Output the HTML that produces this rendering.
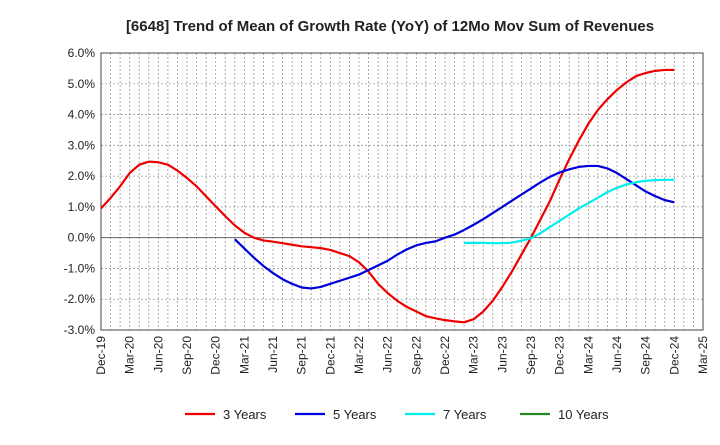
<!DOCTYPE html>
<html><head><meta charset="utf-8"><style>
body{margin:0;background:#fff;font-family:"Liberation Sans",sans-serif;}
svg text{font-family:"Liberation Sans",sans-serif;}
</style></head><body>
<svg width="720" height="440">
<g id="grid"></g>
<g id="axes"></g>
<g id="series"></g>
<text x="390" y="31" text-anchor="middle" font-size="15" font-weight="bold" fill="#222">[6648]  Trend of Mean of Growth Rate (YoY) of 12Mo Mov Sum of Revenues</text>
<g id="legend"></g>
</svg>
<script>
const xLabels=["Dec-19","Mar-20","Jun-20","Sep-20","Dec-20","Mar-21","Jun-21","Sep-21","Dec-21","Mar-22","Jun-22","Sep-22","Dec-22","Mar-23","Jun-23","Sep-23","Dec-23","Mar-24","Jun-24","Sep-24","Dec-24","Mar-25"];
const yTicks=[6,5,4,3,2,1,0,-1,-2,-3];
const seriesNames=["3 Years","5 Years","7 Years","10 Years"];
const seriesColors=["#ee0000","#0000dd","#00eeee","#228b22"];
const y3Start=0;
const y3=[0.95,1.29,1.67,2.1,2.37,2.47,2.45,2.37,2.18,1.94,1.67,1.34,1.02,0.7,0.4,0.16,0.0,-0.09,-0.13,-0.18,-0.23,-0.28,-0.31,-0.34,-0.4,-0.5,-0.6,-0.8,-1.1,-1.5,-1.8,-2.05,-2.25,-2.4,-2.55,-2.62,-2.68,-2.72,-2.75,-2.65,-2.4,-2.05,-1.6,-1.1,-0.55,0.0,0.6,1.2,1.9,2.55,3.15,3.7,4.15,4.5,4.8,5.05,5.25,5.35,5.42,5.45,5.45];
const y5Start=14;
const y5=[-0.05,-0.35,-0.65,-0.92,-1.15,-1.35,-1.5,-1.62,-1.65,-1.6,-1.5,-1.4,-1.3,-1.2,-1.05,-0.9,-0.75,-0.55,-0.38,-0.25,-0.17,-0.12,0.0,0.1,0.25,0.42,0.6,0.8,1.0,1.2,1.4,1.6,1.8,1.98,2.12,2.22,2.3,2.33,2.33,2.25,2.1,1.9,1.7,1.5,1.35,1.22,1.15];
const y7Start=38;
const y7=[-0.17,-0.17,-0.17,-0.18,-0.18,-0.16,-0.1,-0.02,0.15,0.35,0.55,0.75,0.95,1.12,1.3,1.48,1.62,1.73,1.8,1.85,1.87,1.88,1.88];
const y10Start=0;
const y10=[];

const L=101,R=703,T=53,B=330;
const xs=m=>L+(R-L)*m/63;
const ys=v=>T+(B-T)*(6-v)/9;
const NS="http://www.w3.org/2000/svg";
function mk(tag,attrs,parent){const e=document.createElementNS(NS,tag);for(const k in attrs)e.setAttribute(k,attrs[k]);parent.appendChild(e);return e;}
const grid=document.getElementById('grid'),axes=document.getElementById('axes'),ser=document.getElementById('series'),leg=document.getElementById('legend');
for(let m=1;m<63;m++){const l=mk('line',{x1:xs(m),x2:xs(m),y1:T,y2:B,stroke:'#999','stroke-width':0.8,'stroke-dasharray':'2,2'},grid);

}
yTicks.forEach(v=>{
 const l=mk('line',{x1:L,x2:R,y1:ys(v),y2:ys(v),stroke:v===0?'#666':'#999','stroke-width':v===0?1:0.8,'stroke-dasharray':v===0?'':'2,2'},grid);
 
 
 const t=mk('text',{x:L-6,y:ys(v)+4,'text-anchor':'end','font-size':12,fill:'#222'},axes);t.textContent=v.toFixed(1)+'%';
 
 
});
const fr=mk('rect',{x:L,y:T,width:R-L,height:B-T,fill:'none',stroke:'#444','stroke-width':1},axes);


xLabels.forEach((s,i)=>{const x=xs(i*3);
 const t=mk('text',{x:x+4,y:B+6,'text-anchor':'end','font-size':12,fill:'#222',transform:`rotate(-90 ${x+4} ${B+6})`},axes);t.textContent=s;
 
 });
[[y3,y3Start],[y5,y5Start],[y7,y7Start],[y10,y10Start]].forEach((d,k)=>{
 if(!d[0].length)return;
 const p=mk('polyline',{points:d[0].map((v,i)=>xs(d[1]+i)+','+ys(v)).join(' '),fill:'none',stroke:seriesColors[k],'stroke-width':2.2,'stroke-linejoin':'round'},ser);
 
 
});
const lx=[185,295,405,520];
seriesNames.forEach((n,k)=>{
 const l=mk('line',{x1:lx[k],x2:lx[k]+30,y1:414,y2:414,stroke:seriesColors[k],'stroke-width':2.2},leg);
 
 
 const t=mk('text',{x:lx[k]+38,y:419,'font-size':13,fill:'#222'},leg);t.textContent=n;
 
 
});
</script>
</body></html>
